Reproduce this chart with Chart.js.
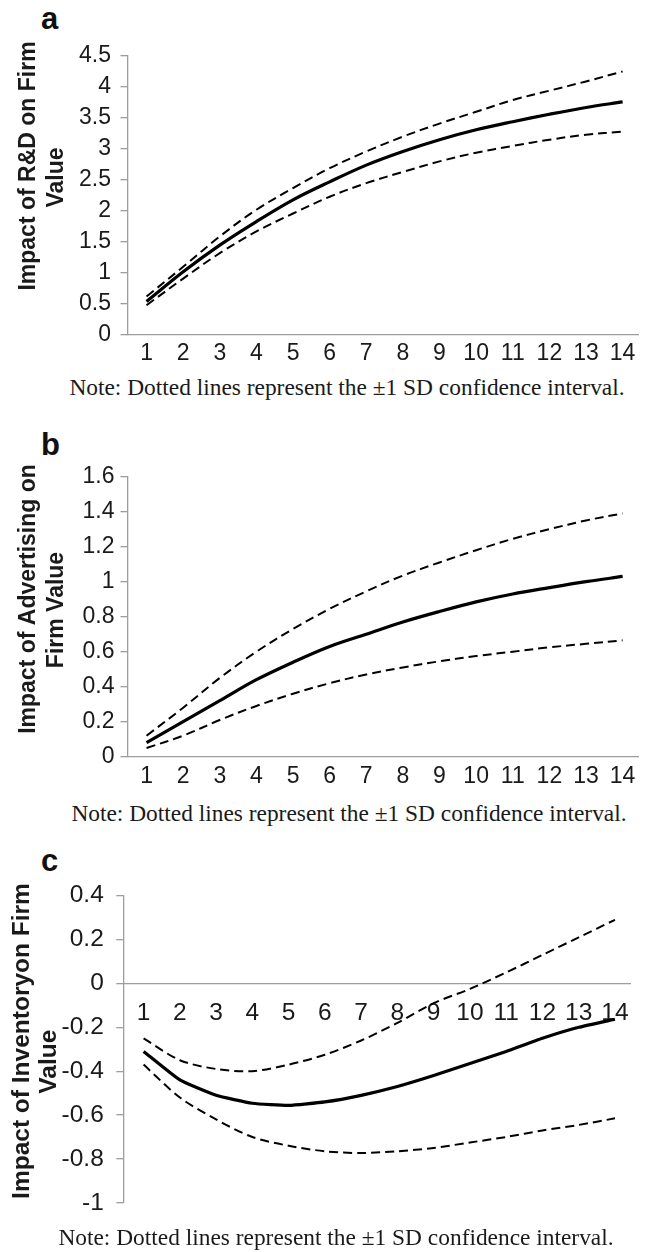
<!DOCTYPE html>
<html>
<head>
<meta charset="utf-8">
<script src="https://cdn.jsdelivr.net/npm/chart.js@4.4.0/dist/chart.umd.min.js"></script>
<style>
  body { margin: 0; background: #fff; }
  #page { position: relative; width: 649px; height: 1252px; overflow: hidden; }
  canvas { position: absolute; left: 0; }
  .letter { position: absolute; left: 41px; font: bold 31px "Liberation Sans", Arial, sans-serif; line-height: 31px; color: #111; }
  .note { position: absolute; width: 620px; text-align: center; font: 23.4px "Liberation Serif", "Times New Roman", serif; line-height: 28px; color: #1a1a1a; white-space: nowrap; }
</style>
</head>
<body>
<div id="page">
  <div class="letter" style="top:3px">a</div>
  <canvas id="chartA" width="649" height="372" style="top:0px"></canvas>
  <div class="note" style="left:37px;top:373px">Note: Dotted lines represent the ±1 SD confidence interval.</div>

  <div class="letter" style="top:429px">b</div>
  <canvas id="chartB" width="649" height="372" style="top:420px"></canvas>
  <div class="note" style="left:39px;top:799px">Note: Dotted lines represent the ±1 SD confidence interval.</div>

  <div class="letter" style="top:845px">c</div>
  <canvas id="chartC" width="649" height="400" style="top:830px"></canvas>
  <div class="note" style="left:26px;top:1223px">Note: Dotted lines represent the ±1 SD confidence interval.</div>
</div>

<script>
// periods after the shock
const periods = [1, 2, 3, 4, 5, 6, 7, 8, 9, 10, 11, 12, 13, 14];

// a: R&D
const rdMean  = [0.54, 1.02, 1.45, 1.83, 2.18, 2.47, 2.74, 2.96, 3.15, 3.31, 3.44, 3.56, 3.67, 3.76];
const rdUpper = [0.62, 1.10, 1.59, 2.02, 2.37, 2.69, 2.96, 3.20, 3.41, 3.60, 3.79, 3.94, 4.09, 4.25];
const rdLower = [0.48, 0.91, 1.32, 1.67, 1.96, 2.23, 2.45, 2.63, 2.80, 2.94, 3.05, 3.15, 3.23, 3.28];
const rdYTicks = [0, 0.5, 1, 1.5, 2, 2.5, 3, 3.5, 4, 4.5];

// b: advertising
const advMean  = [0.08, 0.20, 0.32, 0.44, 0.54, 0.63, 0.70, 0.77, 0.83, 0.885, 0.93, 0.966, 1.0, 1.03];
const advUpper = [0.12, 0.28, 0.45, 0.60, 0.73, 0.845, 0.945, 1.035, 1.11, 1.18, 1.245, 1.30, 1.35, 1.39];
const advLower = [0.05, 0.12, 0.21, 0.29, 0.36, 0.42, 0.47, 0.51, 0.545, 0.575, 0.60, 0.625, 0.645, 0.665];
const advYTicks = [0, 0.2, 0.4, 0.6, 0.8, 1, 1.2, 1.4, 1.6];

// c: inventory
const invMean  = [-0.31, -0.44, -0.51, -0.546, -0.556, -0.54, -0.51, -0.47, -0.42, -0.365, -0.31, -0.25, -0.20, -0.163];
const invUpper = [-0.25, -0.35, -0.39, -0.40, -0.37, -0.325, -0.26, -0.18, -0.09, -0.025, 0.05, 0.13, 0.21, 0.29];
const invLower = [-0.37, -0.52, -0.62, -0.70, -0.74, -0.765, -0.773, -0.765, -0.75, -0.725, -0.70, -0.67, -0.645, -0.615];
const invYTicks = [-1, -0.8, -0.6, -0.4, -0.2, 0, 0.2, 0.4];

const AXIS_GREY = "#9d9d9d";
const TEXT = "#1a1a1a";
const SANS = "'Liberation Sans', Arial, sans-serif";

// rotated two-line y title, placed like the excel one
const yTitlePlugin = {
  id: "yTitle",
  afterDraw(chart, args, opts) {
    const ctx = chart.ctx;
    ctx.save();
    ctx.font = opts.font;
    ctx.fillStyle = TEXT;
    ctx.textAlign = "center";
    ctx.textBaseline = "alphabetic";
    opts.lines.forEach((l) => {
      ctx.save();
      ctx.translate(l.x, l.y);
      ctx.rotate(-Math.PI / 2);
      ctx.fillText(l.text, 0, 0);
      ctx.restore();
    });
    ctx.restore();
  },
};

const toXY = (arr) => arr.map((v, i) => ({ x: periods[i], y: v }));

function makePanel(id, cfg) {
  const ctx = document.getElementById(id).getContext("2d");
  const line = (data, dashed, tension) => ({
    data: toXY(data),
    borderColor: "#000",
    borderWidth: dashed ? 2 : 3.2,
    borderDash: dashed ? [9, 5] : [],
    pointRadius: 0,
    tension: tension,
    fill: false,
  });

  return new Chart(ctx, {
    type: "line",
    data: {
      datasets: [
        line(cfg.upper, true, cfg.tension),
        line(cfg.lower, true, cfg.tension),
        line(cfg.mean, false, cfg.meanTension),
      ],
    },
    options: {
      responsive: false,
      animation: false,
      devicePixelRatio: 1,
      layout: { padding: cfg.padding },
      plugins: {
        legend: { display: false },
        tooltip: { enabled: false },
        yTitle: { font: `bold ${cfg.titleSize}px ${SANS}`, lines: cfg.titleLines },
      },
      scales: {
        x: {
          type: "linear",
          position: cfg.xAtZero ? { y: 0 } : "bottom",
          min: cfg.xMin,
          max: cfg.xMax,
          afterBuildTicks: (s) => { s.ticks = periods.map((v) => ({ value: v })); },
          afterFit: (s) => { if (!cfg.xAtZero) s.height = cfg.xHeight; },
          grid: { display: false, drawTicks: false },
          border: { display: true, color: AXIS_GREY, width: 1.3 },
          ticks: {
            color: TEXT,
            font: { family: SANS, size: cfg.fontSize },
            padding: cfg.xPad,
            maxRotation: 0,
            autoSkip: false,
            callback: (v) => String(v),
          },
        },
        y: {
          type: "linear",
          min: cfg.yTicks[0],
          max: cfg.yTicks[cfg.yTicks.length - 1],
          afterBuildTicks: (s) => { s.ticks = cfg.yTicks.map((v) => ({ value: v })); },
          afterFit: (s) => { s.width = cfg.axisX; },
          grid: { display: true, drawOnChartArea: false, drawTicks: true, tickLength: 7, color: AXIS_GREY, lineWidth: 1.3 },
          border: { display: true, color: AXIS_GREY, width: 1.3 },
          ticks: {
            color: TEXT,
            font: { family: SANS, size: cfg.fontSize },
            padding: cfg.yPad,
            callback: (v) => String(v),
          },
        },
      },
    },
    plugins: [yTitlePlugin],
  });
}

makePanel("chartA", {
  mean: rdMean, upper: rdUpper, lower: rdLower, yTicks: rdYTicks,
  tension: 0.35, meanTension: 0.35,
  padding: { top: 56, bottom: 0, left: 0, right: 11 },
  axisX: 127.5, xMin: 0.48, xMax: 14.42, xHeight: 37,
  fontSize: 23, xPad: 5, yPad: 9.5, titleSize: 23,
  titleLines: [
    { text: "Impact of R&D on Firm", x: 34.8, y: 166 },
    { text: "Value", x: 63.2, y: 177.5 },
  ],
});

makePanel("chartB", {
  mean: advMean, upper: advUpper, lower: advLower, yTicks: advYTicks,
  tension: 0.35, meanTension: 0.35,
  padding: { top: 56.7, bottom: 0, left: 0, right: 11 },
  axisX: 127.5, xMin: 0.48, xMax: 14.42, xHeight: 35.3,
  fontSize: 23, xPad: 6, yPad: 6, titleSize: 23,
  titleLines: [
    { text: "Impact of Advertising on", x: 34.8, y: 179 },
    { text: "Firm Value", x: 63.2, y: 190 },
  ],
});

makePanel("chartC", {
  mean: invMean, upper: invUpper, lower: invLower, yTicks: invYTicks,
  tension: 0.3, meanTension: 0.15,
  padding: { top: 65.7, bottom: 22.3, left: 0, right: 18.8 },
  axisX: 123.3, xMin: 0.44, xMax: 14.42, xAtZero: true,
  fontSize: 24.5, xPad: 15.4, yPad: 12.5, titleSize: 24.5,
  titleLines: [
    { text: "Impact of Inventoryon Firm", x: 29.2, y: 211 },
    { text: "Value", x: 55.8, y: 231.7 },
  ],
});
</script>
</body>
</html>
